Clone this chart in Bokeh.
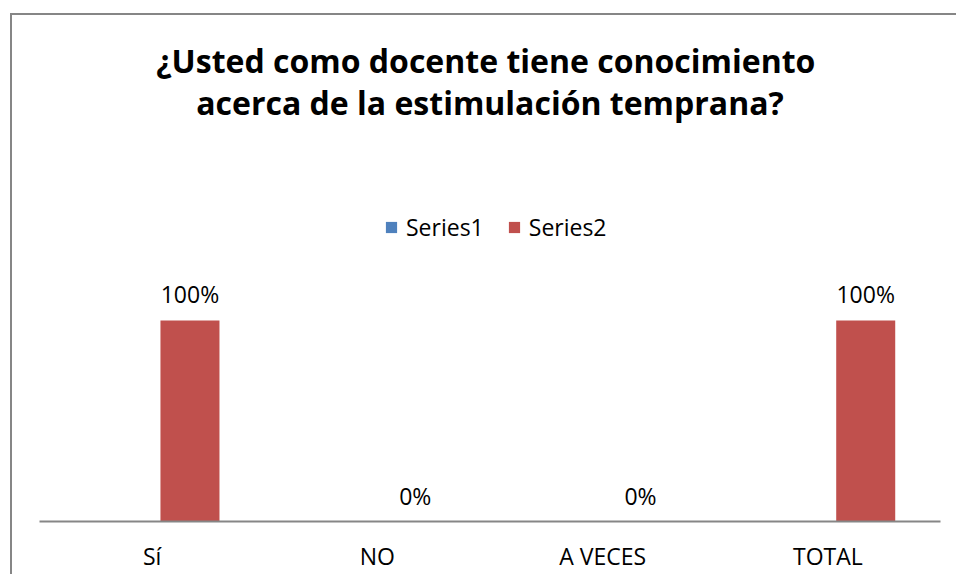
from bokeh.plotting import figure
from bokeh.layouts import column
from bokeh.models import ColumnDataSource, FactorRange, Range1d, LabelSet, Label, Legend, LegendItem
from bokeh.core.properties import value
from bokeh.transform import dodge
from bokeh.embed import file_html
from bokeh.resources import INLINE

categories = ["Sí", "NO", "A VECES", "TOTAL"]
series1 = [0, 0, 0, 0]
series2 = [1.0, 0.0, 0.0, 1.0]
series2_labels = ["100%", "0%", "0%", "100%"]
title_lines = ["¿Usted  como docente tiene conocimiento", "acerca de la estimulación temprana?"]

FONT = "Open Sans"
W, H = 944, 559

src = ColumnDataSource(dict(cat=categories, s1=series1, s2=series2, lab=series2_labels))

p = figure(x_range=FactorRange(*categories, range_padding=0), y_range=Range1d(0, 2.5174),
           width=W, height=H, output_backend="svg", toolbar_location=None, y_axis_location=None,
           min_border_left=27, min_border_right=16, min_border_top=0, min_border_bottom=53,
           border_fill_color="white", background_fill_color="white", tools="")
p.toolbar.logo = None

r1 = p.vbar(x=dodge("cat", -0.094, range=p.x_range), top="s1", width=0.262, source=src,
            fill_color="#4F81BD", line_color=None)
r2 = p.vbar(x=dodge("cat", 0.168, range=p.x_range), top="s2", width=0.262, source=src,
            fill_color="#C0504D", line_color=None)

labels = LabelSet(x=dodge("cat", 0.168, range=p.x_range), y="s2", text="lab", source=src,
                  text_align="center", text_baseline="middle", y_offset=26,
                  text_font=value(FONT), text_font_size=value("23px"), text_color="#000000")
p.add_layout(labels)

for t, yy in zip(title_lines, [2.2936, 2.0846]):
    p.add_layout(Label(x=2.0, y=yy, text=t, text_align="center", text_baseline="middle",
                       text_font=FONT, text_font_size="32px", text_font_style="bold",
                       text_color="#000000"))

legend = Legend(items=[LegendItem(label="Series1", renderers=[r1]),
                       LegendItem(label="Series2", renderers=[r2])],
                orientation="horizontal", location=(345, 278),
                glyph_width=14, glyph_height=14, label_standoff=8, spacing=23,
                padding=0, margin=0, border_line_color=None, background_fill_alpha=0,
                label_text_font=FONT, label_text_font_size="23px", label_text_color="#000000",
                label_text_baseline="middle")
p.add_layout(legend)

p.xgrid.grid_line_color = None
p.ygrid.grid_line_color = None
p.outline_line_color = None
p.xaxis.axis_line_color = "#868686"
p.xaxis.axis_line_width = 2
p.xaxis.major_tick_line_color = None
p.xaxis.minor_tick_line_color = None
p.xaxis.major_label_text_font = FONT
p.xaxis.major_label_text_font_size = "23px"
p.xaxis.major_label_text_color = "#000000"
p.xaxis.major_label_standoff = 12

layout = column(p, margin=(13, 0, 0, 10),
                styles={"border-top": "2px solid #868686", "border-left": "2px solid #868686"})

open("out.html", "w").write(file_html(layout, INLINE))
